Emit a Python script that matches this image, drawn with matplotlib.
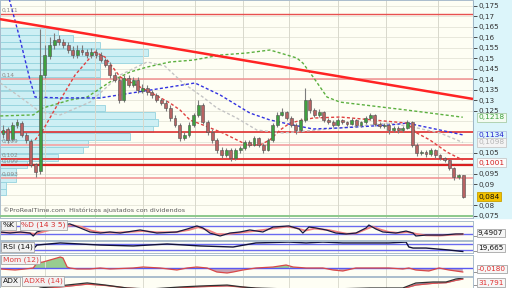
import numpy as np
import matplotlib
matplotlib.use("Agg")
import matplotlib.pyplot as plt
from matplotlib.ticker import FuncFormatter
from matplotlib.patches import Rectangle
from matplotlib.transforms import blended_transform_factory

plt.rcParams['font.family'] = ['DejaVu Sans']

# ---- price candles (one per session) ----
opens = [
 0.1140, 0.1160, 0.1115, 0.1180, 0.1190, 0.1135, 0.1105, 0.0995, 0.0960, 0.1420,
 0.1510, 0.1560, 0.1590, 0.1575, 0.1560, 0.1540, 0.1512, 0.1540, 0.1530, 0.1512,
 0.1530, 0.1515, 0.1490, 0.1465, 0.1420, 0.1395, 0.1300, 0.1405, 0.1370, 0.1395,
 0.1345, 0.1358, 0.1340, 0.1325, 0.1300, 0.1288, 0.1262, 0.1215, 0.1180, 0.1120,
 0.1135, 0.1180, 0.1230, 0.1275, 0.1195, 0.1150, 0.1110, 0.1062, 0.1040, 0.1060,
 0.1025, 0.1062, 0.1072, 0.1100, 0.1088, 0.1120, 0.1088, 0.1062, 0.1110, 0.1180,
 0.1230, 0.1245, 0.1215, 0.1180, 0.1158, 0.1205, 0.1300, 0.1252, 0.1230, 0.1243,
 0.1205, 0.1195, 0.1180, 0.1205, 0.1195, 0.1186, 0.1205, 0.1180, 0.1195, 0.1214,
 0.1229, 0.1186, 0.1176, 0.1181, 0.1157, 0.1167, 0.1157, 0.1167, 0.1195, 0.1086,
 0.1048, 0.1052, 0.1043, 0.1062, 0.1038, 0.1024, 0.1014, 0.0976, 0.0933, 0.0943]
highs = [
 0.1180, 0.1170, 0.1195, 0.1210, 0.1200, 0.1150, 0.1115, 0.1000, 0.1640, 0.1560,
 0.1600, 0.1620, 0.1610, 0.1590, 0.1575, 0.1555, 0.1560, 0.1560, 0.1545, 0.1550,
 0.1545, 0.1530, 0.1500, 0.1480, 0.1435, 0.1410, 0.1420, 0.1420, 0.1410, 0.1410,
 0.1375, 0.1370, 0.1350, 0.1335, 0.1310, 0.1300, 0.1275, 0.1230, 0.1190, 0.1150,
 0.1195, 0.1240, 0.1300, 0.1285, 0.1205, 0.1160, 0.1120, 0.1075, 0.1070, 0.1070,
 0.1070, 0.1080, 0.1110, 0.1110, 0.1130, 0.1125, 0.1095, 0.1120, 0.1190, 0.1245,
 0.1260, 0.1250, 0.1225, 0.1190, 0.1215, 0.1357, 0.1310, 0.1260, 0.1255, 0.1250,
 0.1215, 0.1205, 0.1215, 0.1210, 0.1200, 0.1215, 0.1210, 0.1200, 0.1225, 0.1240,
 0.1235, 0.1195, 0.1190, 0.1190, 0.1175, 0.1175, 0.1175, 0.1205, 0.1200, 0.1095,
 0.1060, 0.1060, 0.1070, 0.1065, 0.1045, 0.1030, 0.1020, 0.0980, 0.0950, 0.0945]
lows = [
 0.1120, 0.1095, 0.1105, 0.1165, 0.1125, 0.1095, 0.0980, 0.0933, 0.0950, 0.1405,
 0.1495, 0.1545, 0.1560, 0.1550, 0.1525, 0.1500, 0.1500, 0.1515, 0.1500, 0.1500,
 0.1500, 0.1480, 0.1455, 0.1405, 0.1385, 0.1285, 0.1290, 0.1360, 0.1360, 0.1335,
 0.1335, 0.1325, 0.1310, 0.1290, 0.1275, 0.1250, 0.1200, 0.1170, 0.1105, 0.1110,
 0.1125, 0.1170, 0.1220, 0.1185, 0.1135, 0.1095, 0.1050, 0.1025, 0.1030, 0.1010,
 0.1015, 0.1050, 0.1060, 0.1075, 0.1080, 0.1075, 0.1050, 0.1055, 0.1100, 0.1170,
 0.1225, 0.1205, 0.1170, 0.1140, 0.1150, 0.1195, 0.1240, 0.1220, 0.1220, 0.1195,
 0.1185, 0.1170, 0.1175, 0.1185, 0.1175, 0.1180, 0.1170, 0.1170, 0.1185, 0.1205,
 0.1175, 0.1165, 0.1165, 0.1140, 0.1150, 0.1145, 0.1150, 0.1160, 0.1075, 0.1035,
 0.1040, 0.1030, 0.1035, 0.1025, 0.1015, 0.1005, 0.0965, 0.0920, 0.0925, 0.0835]
closes = [
 0.1157, 0.1110, 0.1181, 0.1195, 0.1133, 0.1110, 0.0990, 0.0957, 0.1419, 0.1514,
 0.1562, 0.1586, 0.1576, 0.1562, 0.1538, 0.1514, 0.1538, 0.1529, 0.1514, 0.1529,
 0.1514, 0.1490, 0.1467, 0.1419, 0.1395, 0.1300, 0.1405, 0.1371, 0.1395, 0.1348,
 0.1357, 0.1338, 0.1324, 0.1300, 0.1286, 0.1262, 0.1214, 0.1181, 0.1119, 0.1133,
 0.1181, 0.1229, 0.1276, 0.1195, 0.1148, 0.1110, 0.1062, 0.1038, 0.1062, 0.1024,
 0.1062, 0.1071, 0.1100, 0.1086, 0.1119, 0.1086, 0.1062, 0.1110, 0.1181, 0.1229,
 0.1243, 0.1214, 0.1181, 0.1157, 0.1205, 0.1300, 0.1252, 0.1229, 0.1243, 0.1205,
 0.1195, 0.1181, 0.1205, 0.1195, 0.1186, 0.1205, 0.1181, 0.1195, 0.1214, 0.1229,
 0.1186, 0.1176, 0.1181, 0.1157, 0.1167, 0.1157, 0.1167, 0.1195, 0.1086, 0.1048,
 0.1052, 0.1043, 0.1062, 0.1038, 0.1024, 0.1014, 0.0976, 0.0933, 0.0943, 0.0840]

# volume profile (price level, relative volume)
vp_price = [0.1626, 0.1593, 0.1560, 0.1526, 0.1493, 0.1460, 0.1426, 0.1393, 0.1360, 0.1326,
            0.1293, 0.1260, 0.1226, 0.1193, 0.1160, 0.1126, 0.1093, 0.1060, 0.1026, 0.0993,
            0.0960, 0.0926, 0.0893, 0.0860]
vp_vol = [58, 73, 100, 148, 143, 100, 100, 100, 100, 100,
          95, 105, 155, 158, 153, 130, 88, 83, 58, 27,
          16, 16, 6, 6]

# moving averages read at sample sessions
ma_green_x = [-0.6, 6.5, 8.6, 14.4, 18.1, 23.0, 27.3, 31.0, 35.9, 40.9, 46.7, 52.5, 57.4, 59.6,
              63.2, 64.5, 66.7, 69.7, 72.5, 86.9, 98.9]
ma_green = [0.1224, 0.1229, 0.1262, 0.1300, 0.1314, 0.1386, 0.1433, 0.1457, 0.1481, 0.1490,
            0.1514, 0.1524, 0.1538, 0.1524, 0.1500, 0.1476, 0.1410, 0.1314, 0.1290, 0.1252, 0.1218]
ma_blue_x = [1.1, 3.7, 5.8, 6.9, 12.3, 20.9, 35.9, 41.3, 46.7, 53.1, 57.4, 62.4, 66.7, 72.5,
             83.2, 86.9, 94.0, 98.9]
ma_blue = [0.1800, 0.1586, 0.1395, 0.1314, 0.1310, 0.1310, 0.1362, 0.1381, 0.1324, 0.1238,
           0.1205, 0.1181, 0.1162, 0.1167, 0.1181, 0.1190, 0.1157, 0.1134]
ma_gray_x = [-0.6, 3.7, 8.0, 12.3, 18.7, 25.2, 31.0, 34.8, 38.7, 43.0, 46.0, 50.3, 54.6, 60.2,
             72.5, 83.2, 88.2, 94.0, 98.9]
ma_gray = [0.1381, 0.1314, 0.1243, 0.1229, 0.1290, 0.1419, 0.1481, 0.1462, 0.1381, 0.1314,
           0.1262, 0.1214, 0.1157, 0.1143, 0.1167, 0.1190, 0.1171, 0.1143, 0.1098]
ma_red_x = [6.9, 8.6, 12.3, 15.5, 19.8, 21.9, 25.2, 31.6, 35.9, 38.1, 40.2, 43.0, 47.3, 50.3,
            52.5, 55.3, 57.4, 59.6, 61.7, 64.5, 66.7, 72.5, 79.6, 86.9, 89.0, 91.8, 95.5, 98.9]
ma_red = [0.1110, 0.1157, 0.1300, 0.1419, 0.1529, 0.1505, 0.1410, 0.1338, 0.1286, 0.1252,
          0.1205, 0.1181, 0.1143, 0.1110, 0.1086, 0.1086, 0.1110, 0.1157, 0.1190, 0.1205,
          0.1214, 0.1219, 0.1205, 0.1190, 0.1143, 0.1110, 0.1052, 0.1014]

trend_x = [-0.65, 101.1]
trend_y = [0.1685, 0.1305]

levels = [0.171, 0.14, 0.1148, 0.1086, 0.1019, 0.0990, 0.0929]
level_colors = ['#e85050', '#f09090', '#e03030', '#f4a8a8', '#e03030', '#d82020', '#f09090']
level_widths = [1.0, 1.1, 1.2, 1.3, 1.3, 1.6, 1.1]
level_tags = {0.171: '0,171', 0.14: '0,14', 0.1086: '0,109', 0.1019: '0,102',
              0.0990: '0,099', 0.0929: '0,093'}

price_ticks = [0.175, 0.17, 0.165, 0.16, 0.155, 0.15, 0.145, 0.14, 0.135, 0.13, 0.125,
               0.105, 0.095, 0.09, 0.08, 0.075]
grid_ticks = [0.175, 0.17, 0.165, 0.16, 0.155, 0.15, 0.145, 0.14, 0.135, 0.13, 0.125,
              0.12, 0.115, 0.11, 0.105, 0.1, 0.095, 0.09, 0.085, 0.08, 0.075]
vgrid = [9.0, 19.8, 30.1, 41.3, 51.6, 61.5, 72.0, 82.4, 93.5]

# ---- indicators ----
stk_x = [-0.6, 1.5, 3.7, 5.8, 6.5, 7.3, 12.3, 14.4, 16.6, 18.7, 20.9, 23.0, 25.2, 29.5, 33.1,
         37.4, 39.6, 41.7, 43.0, 44.5, 46.7, 48.8, 51.0, 53.1, 55.9, 58.1, 61.5, 63.7, 64.5,
         65.8, 67.3, 69.5, 71.6, 73.8, 75.9, 78.1, 78.7, 80.2, 81.7, 84.5, 86.7, 88.2, 88.8,
         91.0, 94.6, 97.4, 98.9]
stk_k = [35, 27, 35, 27, 5, 35, 87, 95, 65, 35, 27, 35, 27, 50, 27,
         35, 57, 80, 65, 27, 5, 27, 35, 50, 35, 72, 80, 57, 27,
         72, 65, 50, 27, 20, 27, 65, 87, 57, 35, 27, 42, 27, 5,
         12, 12, 20, 20]
std_x = [-0.6, 2, 5, 7, 9, 13, 15, 17, 19, 21, 24, 27, 30, 33, 37, 40, 42, 44, 46, 48, 51, 54,
         57, 61, 63, 65, 67, 70, 72, 74, 76, 78, 79.5, 81, 83, 85, 87, 89, 91, 94, 97, 98.9]
std_d = [30, 32, 30, 20, 40, 75, 85, 72, 45, 32, 30, 35, 42, 33, 33, 50, 70, 50, 20, 18, 30, 42,
         55, 75, 65, 45, 60, 50, 35, 22, 25, 55, 75, 55, 35, 28, 35, 20, 10, 8, 15, 18]

rsi_x = [6.5, 6.9, 7.3, 12.3, 20.9, 28.0, 35.3, 42.4, 49.5, 54.4, 61.5, 65.2, 68.8, 73.1, 77.4,
         83.0, 86.7, 87.3, 88.2, 91.0, 95.9, 98.9]
rsi = [30, 50, 63, 77, 63, 57, 70, 57, 50, 77, 83, 77, 83, 77, 77,
       77, 83, 50, 43, 43, 30, 20]

mom_x = [-0.6, 2.6, 4.7, 6.5, 7.3, 8.6, 10.1, 11.6, 12.3, 12.9, 13.8, 14.4, 15.9, 18.7, 20.9,
         23.0, 28.0, 30.1, 33.8, 37.4, 39.6, 41.7, 43.9, 46.0, 48.2, 49.5, 51.6, 54.4, 58.1,
         60.9, 62.4, 65.2, 68.8, 71.0, 73.1, 75.9, 79.6, 83.0, 86.0, 87.3, 88.8, 91.6, 93.8,
         95.9, 97.4, 98.9]
mom = [-0.0045, -0.009, -0.0045, 0.0, 0.0225, 0.027, 0.036, 0.045, 0.0495, 0.045, 0.0045, 0.0,
       -0.0045, -0.0045, 0.0, -0.0045, 0.0, 0.0045, 0.0, -0.009, 0.0, 0.0045, 0.0, -0.018,
       -0.0225, -0.018, -0.009, 0.0, 0.0045, 0.0135, 0.0045, 0.0, 0.0, -0.009, -0.0135, 0.0,
       0.0, 0.0, -0.0045, 0.0, -0.009, -0.0135, 0.0, -0.009, -0.0135, -0.018]

adx_x = [6.9, 8.0, 13.8, 18.1, 22.0, 26.7, 31.6, 38.1, 42.4, 48.2, 51.6, 54.4, 61.7, 70.3,
         78.9, 86.0, 88.8, 92.5, 95.3, 97.4, 98.9]
adx = [4, 9, 16, 21, 16, 9, 6.6, 11.4, 13.7, 16, 11.4, 9, 6.6, 6.6, 9, 9, 20.8, 23.2, 23.2, 30.2, 32.6]
adxr = [3, 7, 13, 18, 15, 9, 5.5, 9.5, 12, 14, 11, 8, 5, 5, 7, 7.5, 16, 20, 21.5, 27, 30]

# ---- layout in pixels ----
W, H = 512, 288
XLIM = (-0.65, 101.1)
PLIM = (0.07381, 0.17762)
CREAM = '#fefef4'
EDGE = '#aabccc'

fig = plt.figure(figsize=(5.12, 2.88), dpi=100)
fig.patch.set_facecolor('white')


def panel(x0, y0, x1, y1):
    a = fig.add_axes([x0 / W, 1 - y1 / H, (x1 - x0) / W, (y1 - y0) / H])
    a.set_xlim(*XLIM)
    a.set_xticks([])
    for s in a.spines.values():
        s.set_color(EDGE)
        s.set_linewidth(0.7)
    return a


fig.patches.append(Rectangle((473 / W, 1 - 218 / H), 39 / W, 218 / H,
                             transform=fig.transFigure, color='#dcf5fa', zorder=0))

# volume profile underneath
ax_vp = fig.add_axes([0, 1 - 218 / H, 473 / W, 218 / H])
ax_vp.set_facecolor(CREAM)
ax_vp.set_xlim(0, 3.0 * max(vp_vol))
ax_vp.set_ylim(*PLIM)
ax_vp.set_xticks([])
ax_vp.set_yticks([])
for s in ax_vp.spines.values():
    s.set_visible(False)
for g in grid_ticks:
    ax_vp.axhline(g, color='#e4e4d8', lw=0.6, zorder=0)
ax_vp.barh(vp_price, vp_vol, height=0.0029, left=0, color='#cdeff4',
           edgecolor='#94d3de', lw=0.6, zorder=2)

ax = panel(0, 0, 473, 218)
ax.set_zorder(ax_vp.get_zorder() + 1)
ax.set_facecolor('none')
ax.set_ylim(*PLIM)
for v in vgrid:
    ax.axvline(v, color='#d8d8cc', lw=0.7, zorder=1)

for lv, lc, lw in zip(levels, level_colors, level_widths):
    ax.axhline(lv, color=lc, lw=lw, zorder=2)
    if lv in level_tags:
        ax.text(-0.4, lv + 0.0006, level_tags[lv], fontsize=4.2, color='#8a8a8a',
                va='bottom', ha='left', zorder=6)

dash = (0, (2.2, 1.6))
ax.plot(ma_gray_x, ma_gray, color='#c4c4c4', lw=1.0, ls=dash, zorder=3)
ax.plot(ma_green_x, ma_green, color='#5cb040', lw=1.0, ls=dash, zorder=3)
ax.plot(ma_blue_x, ma_blue, color='#3232e0', lw=1.0, ls=dash, zorder=3)
ax.plot(ma_red_x, ma_red, color='#e04040', lw=1.0, ls=dash, zorder=3)

o = np.array(opens)
hi = np.array(highs)
lo = np.array(lows)
c = np.array(closes)
idx = np.arange(len(c))
up = c >= o
ax.vlines(idx, lo, hi, color='#7c7c7c', lw=0.8, zorder=4)
ax.bar(idx[up], np.maximum(c - o, 0.0003)[up], bottom=o[up], width=0.62,
       color='#3fa03f', edgecolor='#505050', lw=0.4, zorder=5)
ax.bar(idx[~up], (o - c)[~up], bottom=c[~up], width=0.62,
       color='#b86262', edgecolor='#505050', lw=0.4, zorder=5)

ax.plot(trend_x, trend_y, color='#ff2424', lw=1.8, zorder=6, solid_capstyle='butt')
ax.axhline(0.0748, color='#8cc98c', lw=1.4, zorder=6)
ax.text(0.0, 0.0773, '\u00a9ProRealTime.com  Hist\u00f3ricos ajustados con dividendos',
        fontsize=4.6, color='#5a5a5a', va='center', ha='left', zorder=7)

ax.yaxis.tick_right()
ax.set_yticks(price_ticks)
ax.yaxis.set_major_formatter(FuncFormatter(lambda v, _: ('%g' % v).replace('.', ',')))
ax.tick_params(axis='y', direction='out', length=3, width=0.6, pad=1.2,
               labelsize=5.2, colors='#333333')
ax.spines['right'].set_color('#9fb6c6')

trans = blended_transform_factory(ax.transAxes, ax.transData)
value_tags = [(0.1218, '0,1218', '#3aa03a', '#f4fbf2', '#a8cca8'),
              (0.1134, '0,1134', '#2323d0', '#dcf5fa', '#b0c0e0'),
              (0.1098, '0,1098', '#b4b4b4', '#f4f4f4', '#c8c8c8'),
              (0.1001, '0,1001', '#d42020', '#fbfbfb', '#c8c8c8'),
              (0.0840, '0,084', '#111111', '#f2c200', '#c8a000')]
for val, s, tc, fc, ec in value_tags:
    ax.text(1.012, val, s, transform=trans, fontsize=5.4, color=tc, va='center', ha='left',
            clip_on=False, zorder=8,
            bbox=dict(boxstyle='square,pad=0.18', fc=fc, ec=ec, lw=0.6))

lab_box = dict(boxstyle='square,pad=0.2', fc='#f2f2f2', ec='#a6a6a6', lw=0.6)

# stochastic
ax_s = panel(0, 221, 473, 240)
ax_s.set_facecolor(CREAM)
ax_s.set_ylim(-25, 117)
ax_s.set_yticks([])
for v in vgrid:
    ax_s.axvline(v, color='#dcdcd0', lw=0.7)
ax_s.axhline(80, color='#6a6af0', lw=1.0)
ax_s.axhline(20, color='#6a6af0', lw=1.0)
ax_s.plot(std_x, std_d, color='#f08080', lw=1.3)
ax_s.plot(stk_x, stk_k, color='#1a1a40', lw=0.9)
ax_s.text(0.006, 0.78, '%K', transform=ax_s.transAxes, fontsize=5.4, color='#111111',
          va='center', bbox=lab_box)
ax_s.text(0.045, 0.78, '%D (14 3 5)', transform=ax_s.transAxes, fontsize=5.4, color='#d83030',
          va='center', bbox=lab_box)

# RSI
ax_r = panel(0, 241, 473, 253)
ax_r.set_facecolor(CREAM)
ax_r.set_ylim(10, 90)
ax_r.set_yticks([])
for v in vgrid:
    ax_r.axvline(v, color='#dcdcd0', lw=0.7)
ax_r.axhline(70, color='#6a6af0', lw=1.0)
ax_r.axhline(30, color='#6a6af0', lw=1.0)
ax_r.plot(rsi_x, rsi, color='#12123a', lw=1.0)
ax_r.text(0.006, 0.5, 'RSI (14)', transform=ax_r.transAxes, fontsize=5.4, color='#111111',
          va='center', bbox=lab_box)

# momentum
ax_m = panel(0, 255, 473, 276)
ax_m.set_facecolor(CREAM)
ax_m.set_ylim(-0.036, 0.0585)
ax_m.set_yticks([])
for v in vgrid:
    ax_m.axvline(v, color='#dcdcd0', lw=0.7)
mx = np.array(mom_x)
mv = np.array(mom)
ax_m.fill_between(mx, mv, 0, where=mv >= 0, interpolate=True, color='#98cc90', lw=0)
ax_m.fill_between(mx, mv, 0, where=mv <= 0, interpolate=True, color='#c9a3b4', lw=0)
ax_m.axhline(0, color='#5a5af0', lw=1.0)
ax_m.plot(mx, mv, color='#d84848', lw=0.9)
ax_m.text(0.006, 0.78, 'Mom (12)', transform=ax_m.transAxes, fontsize=5.4, color='#e04040',
          va='center', bbox=lab_box)

# ADX
ax_a = panel(0, 277, 473, 288)
ax_a.set_facecolor(CREAM)
ax_a.set_ylim(9, 35)
ax_a.set_yticks([])
for v in vgrid:
    ax_a.axvline(v, color='#dcdcd0', lw=0.7)
ax_a.fill_between(adx_x, adx, adxr, color='#8e8eb0', lw=0)
ax_a.plot(adx_x, adxr, color='#e05050', lw=0.9)
ax_a.plot(adx_x, adx, color='#303030', lw=0.9)
ax_a.text(0.006, 0.62, 'ADX', transform=ax_a.transAxes, fontsize=5.4, color='#111111',
          va='center', bbox=lab_box)
ax_a.text(0.05, 0.62, 'ADXR (14)', transform=ax_a.transAxes, fontsize=5.4, color='#e04040',
          va='center', bbox=lab_box)

# last-value tags of the indicator panels
side_tags = [(233, '9,4907', '#111111'), (248, '19,665', '#111111'),
             (269, '-0,0180', '#e03030'), (282.5, '31,791', '#e03030')]
for py, s, tc in side_tags:
    fig.text(473 / W, 1 - (py + 1) / H, '_', fontsize=5, color='#333333', va='center')
    fig.text(478 / W, 1 - py / H, s, fontsize=5.2, color=tc, va='center', ha='left',
             bbox=dict(boxstyle='square,pad=0.18', fc='#f6f6f6', ec='#a6a6a6', lw=0.6))

fig.savefig('out.png', dpi=100, facecolor='white')
